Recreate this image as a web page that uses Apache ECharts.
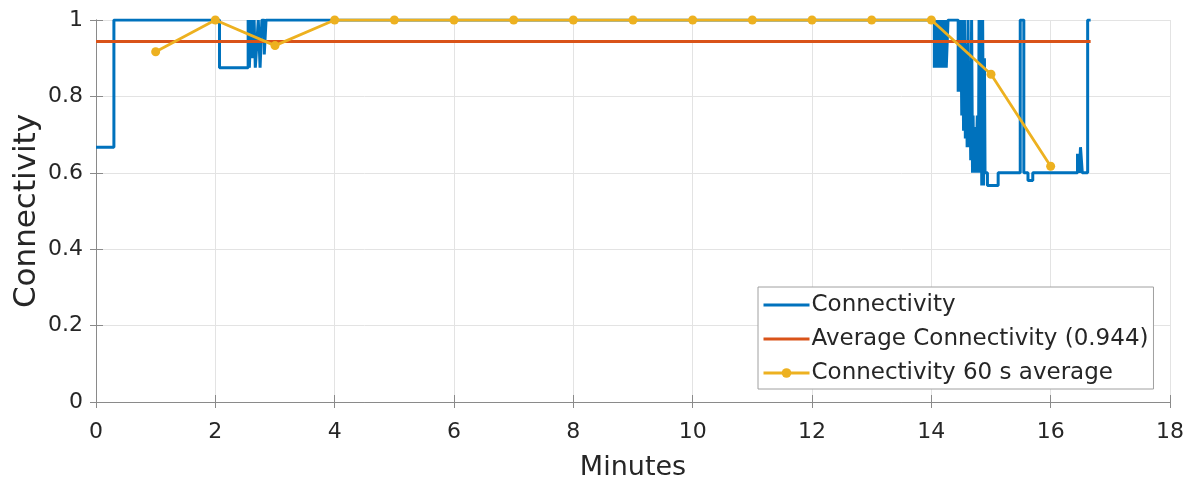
<!DOCTYPE html>
<html>
<head>
<meta charset="utf-8">
<script src="https://cdn.jsdelivr.net/npm/echarts@6/dist/echarts.min.js"></script>
<style>
  html, body { margin: 0; padding: 0; background: #fff; }
  #chart { width: 1192px; height: 488px; }
</style>
</head>
<body>
<div id="chart"></div>
<script>
// Connectivity samples as [minutes, value]; the value holds until the next sample.
const connTimes = [
  0, 0.30, 2.07, 2.55, 2.57, 2.60, 2.62, 2.65, 2.67, 2.70, 2.72, 2.75, 2.78, 2.82, 2.85, 2.88,
  14.05, 14.07, 14.09, 14.11, 14.13, 14.15, 14.17, 14.19, 14.21, 14.23, 14.25, 14.28,
  14.45, 14.465, 14.48, 14.495, 14.51, 14.525, 14.54, 14.555, 14.57, 14.585, 14.60, 14.615,
  14.63, 14.645, 14.66, 14.675, 14.69, 14.70, 14.71, 14.73, 14.75, 14.77, 14.79, 14.80,
  14.815, 14.83, 14.845, 14.86, 14.875, 14.89, 14.90,
  14.94, 15.12, 15.49, 15.55, 15.62, 15.70, 16.45, 16.48, 16.50, 16.53, 16.56, 16.62, 16.67
];
const connValues = [
  0.667, 1, 0.875, 1, 0.875, 1, 0.9, 1, 0.875, 0.95, 1, 0.875, 1, 0.91, 1, 1,
  0.875, 1, 0.875, 1, 0.875, 1, 0.875, 1, 0.875, 1, 0.875, 1,
  0.8125, 1, 0.8125, 1, 0.75, 1, 0.71, 1, 0.69, 0.9375, 0.667, 1,
  0.667, 0.875, 0.633, 1, 0.6, 0.75, 0.6, 0.72, 0.6, 0.75, 0.6, 1,
  0.6, 1, 0.567, 1, 0.567, 0.9, 0.6,
  0.567, 0.6, 1, 0.6, 0.58, 0.6, 0.65, 0.6, 0.667, 0.6, 0.6, 1, 1
];

// Whole-run average connectivity
const avgConnectivity = 0.944;

// 60 s averages
const avgMinutes = [1, 2, 3, 4, 5, 6, 7, 8, 9, 10, 11, 12, 13, 14, 15, 16];
const avgValues = [0.917, 1, 0.933, 1, 1, 1, 1, 1, 1, 1, 1, 1, 1, 1, 0.858, 0.617];

const xTicks = [0, 2, 4, 6, 8, 10, 12, 14, 16, 18];
const yTicks = [0, 0.2, 0.4, 0.6, 0.8, 1];

const seriesNames = ['Connectivity', 'Average Connectivity (0.944)', 'Connectivity 60 s average'];
const colors = ['#0072BD', '#D95319', '#EDB120'];

const connData = connTimes.map((t, i) => [t, connValues[i]]);
const avgLine = [[connTimes[0], avgConnectivity], [connTimes[connTimes.length - 1], avgConnectivity]];
const movingAvg = avgMinutes.map((t, i) => [t, avgValues[i]]);

const font = 'DejaVu Sans, Verdana, sans-serif';
const axisGray = '#8a8a8a';
const textColor = '#262626';
// plain bar used as the legend key of the lines without markers
const lineKey = 'path://M0,0H46V3H0Z';

const chart = echarts.init(document.getElementById('chart'), null, { renderer: 'canvas' });

const frameAxis = {
  type: 'value',
  min: 0,
  axisLine: { show: true, lineStyle: { color: axisGray, width: 1 } },
  axisTick: { show: true, inside: true, length: 6, lineStyle: { color: axisGray } },
  axisLabel: { show: false },
  splitLine: { show: false }
};

chart.setOption({
  animation: false,
  backgroundColor: '#ffffff',
  textStyle: { fontFamily: font },
  grid: { left: 96, right: 22, top: 20, bottom: 86, containLabel: false, outerBoundsMode: 'none' },
  xAxis: [
    {
      type: 'value',
      min: xTicks[0],
      max: xTicks[xTicks.length - 1],
      interval: 2,
      name: 'Minutes',
      nameLocation: 'middle',
      nameGap: 52,
      nameMoveOverlap: false,
      nameTextStyle: { fontSize: 27, color: textColor, fontFamily: font },
      axisLine: { show: true, onZero: false, lineStyle: { color: axisGray, width: 1 } },
      axisTick: { show: true, inside: true, length: 7, lineStyle: { color: axisGray } },
      axisLabel: { fontSize: 22, color: textColor, margin: 19, fontFamily: font },
      splitLine: { show: true, lineStyle: { color: '#e3e3e3', width: 1 } }
    },
    Object.assign({}, frameAxis, { position: 'top', max: xTicks[xTicks.length - 1], interval: 2 })
  ],
  yAxis: [
    {
      type: 'value',
      min: yTicks[0],
      max: yTicks[yTicks.length - 1],
      interval: 0.2,
      name: 'Connectivity',
      nameLocation: 'middle',
      nameGap: 54,
      nameMoveOverlap: false,
      nameTextStyle: { fontSize: 31, color: textColor, fontFamily: font },
      axisLine: { show: true, onZero: false, lineStyle: { color: axisGray, width: 1 } },
      axisTick: { show: true, inside: true, length: 7, lineStyle: { color: axisGray } },
      axisLabel: {
        fontSize: 22, color: textColor, margin: 13, fontFamily: font,
        formatter: v => String(Math.round(v * 10) / 10)
      },
      splitLine: { show: true, lineStyle: { color: '#e3e3e3', width: 1 } }
    },
    Object.assign({}, frameAxis, { position: 'right', max: yTicks[yTicks.length - 1], interval: 0.2 })
  ],
  legend: {
    orient: 'vertical',
    left: 758,
    top: 287,
    data: [
      { name: seriesNames[0], icon: lineKey },
      { name: seriesNames[1], icon: lineKey },
      { name: seriesNames[2], lineStyle: { width: 3 } }
    ],
    symbolKeepAspect: true,
    backgroundColor: '#ffffff',
    borderColor: '#a0a0a0',
    borderWidth: 1,
    borderRadius: 0,
    padding: [5, 5, 3, 4],
    itemGap: 8,
    itemWidth: 46,
    itemHeight: 12,
    textStyle: { fontSize: 23, color: textColor, fontFamily: font, lineHeight: 26, padding: [0, 0, 0, -3] }
  },
  series: [
    {
      name: seriesNames[0],
      type: 'line',
      step: 'end',
      data: connData,
      showSymbol: false,
      symbol: 'none',
      lineStyle: { color: colors[0], width: 3 },
      itemStyle: { color: colors[0] },
      z: 2
    },
    {
      name: seriesNames[1],
      type: 'line',
      data: avgLine,
      symbol: 'none',
      lineStyle: { color: colors[1], width: 3 },
      itemStyle: { color: colors[1] },
      z: 3
    },
    {
      name: seriesNames[2],
      type: 'line',
      data: movingAvg,
      symbol: 'circle',
      symbolSize: 9,
      showSymbol: true,
      lineStyle: { color: colors[2], width: 2.8 },
      itemStyle: { color: colors[2] },
      z: 4
    }
  ]
});
</script>
</body>
</html>
